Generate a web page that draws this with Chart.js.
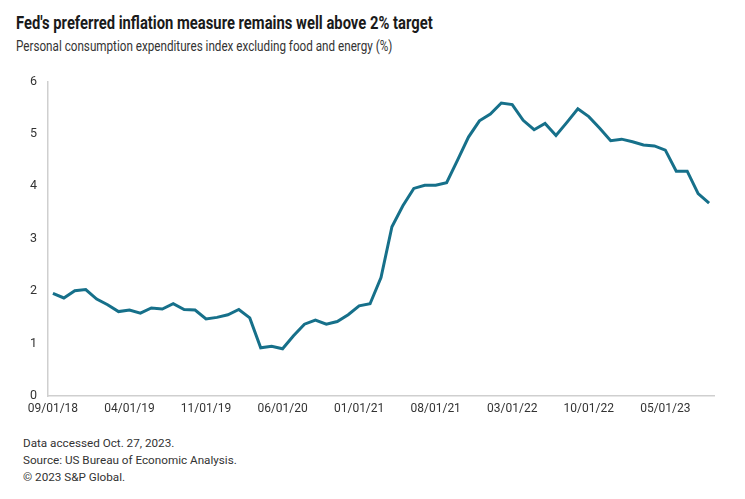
<!DOCTYPE html>
<html>
<head>
<meta charset="utf-8">
<script src="https://cdn.jsdelivr.net/npm/chart.js@4"></script>
<style>
  body { margin: 0; background: #fff; width: 745px; height: 499px; position: relative; overflow: hidden; }
  .title { position: absolute; left: 16px; top: 13px; font-family: "Roboto", sans-serif; font-weight: bold; font-size: 17.5px; color: #1a1a1a; white-space: nowrap; transform: scaleX(0.845); transform-origin: left top; }
  .subtitle { position: absolute; left: 16px; top: 38px; font-family: "Roboto", sans-serif; font-size: 14.5px; color: #333; white-space: nowrap; transform: scaleX(0.805); transform-origin: left top; }
  .foot { position: absolute; left: 23px; top: 435px; font-family: "Roboto", sans-serif; font-size: 11.7px; line-height: 17px; color: #333; }
  #wrap { position: absolute; left: 0; top: 63px; width: 745px; height: 369px; }
</style>
</head>
<body>
<div class="title">Fed's preferred inflation measure remains well above 2% target</div>
<div class="subtitle">Personal consumption expenditures index excluding food and energy (%)</div>
<div id="wrap"><canvas id="pceChart"></canvas></div>
<div class="foot">Data accessed Oct. 27, 2023.<br>Source: US Bureau of Economic Analysis.<br>© 2023 S&amp;P Global.</div>
<script>
// Monthly dates, 09/2018 .. 09/2023
const months = [
  '09/01/18', '10/01/18', '11/01/18', '12/01/18',
  '01/01/19', '02/01/19', '03/01/19', '04/01/19', '05/01/19', '06/01/19', '07/01/19', '08/01/19', '09/01/19', '10/01/19', '11/01/19', '12/01/19',
  '01/01/20', '02/01/20', '03/01/20', '04/01/20', '05/01/20', '06/01/20', '07/01/20', '08/01/20', '09/01/20', '10/01/20', '11/01/20', '12/01/20',
  '01/01/21', '02/01/21', '03/01/21', '04/01/21', '05/01/21', '06/01/21', '07/01/21', '08/01/21', '09/01/21', '10/01/21', '11/01/21', '12/01/21',
  '01/01/22', '02/01/22', '03/01/22', '04/01/22', '05/01/22', '06/01/22', '07/01/22', '08/01/22', '09/01/22', '10/01/22', '11/01/22', '12/01/22',
  '01/01/23', '02/01/23', '03/01/23', '04/01/23', '05/01/23', '06/01/23', '07/01/23', '08/01/23', '09/01/23'
];

// Core PCE, year-over-year %
const corePce = [
  1.96, 1.87, 2.01, 2.03,
  1.85, 1.74, 1.61, 1.64, 1.58, 1.68, 1.66, 1.76, 1.65, 1.64, 1.47, 1.50,
  1.55, 1.65, 1.49, 0.92, 0.95, 0.90, 1.15, 1.37, 1.45, 1.37, 1.42, 1.55,
  1.72, 1.76, 2.26, 3.23, 3.63, 3.96, 4.02, 4.02, 4.07, 4.50, 4.94, 5.25,
  5.38, 5.59, 5.56, 5.26, 5.08, 5.20, 4.97, 5.22, 5.48, 5.33, 5.11, 4.87,
  4.90, 4.85, 4.79, 4.77, 4.69, 4.29, 4.29, 3.86, 3.68
];

// x tick every 7 months
const tickIdx = [0, 7, 14, 21, 28, 35, 42, 49, 56];
const yTicks = [0, 1, 2, 3, 4, 5, 6];

const points = corePce.map((v, i) => ({ x: i, y: v }));

const ctx = document.getElementById('pceChart').getContext('2d');
new Chart(ctx, {
  type: 'line',
  data: {
    datasets: [{
      label: 'Core PCE',
      data: points,
      borderColor: '#16708a',
      borderWidth: 3,
      pointRadius: 0,
      tension: 0,
      fill: false
    }]
  },
  options: {
    responsive: true,
    maintainAspectRatio: false,
    animation: false,
    layout: { padding: { top: 6, right: 31, left: 0, bottom: 0 } },
    plugins: {
      legend: { display: false },
      tooltip: { enabled: false }
    },
    scales: {
      x: {
        type: 'linear',
        min: -0.45,
        max: 60.45,
        afterBuildTicks: (scale) => {
          scale.ticks = tickIdx.map(v => ({ value: v }));
        },
        afterFit: (scale) => { scale.height = 36; },
        ticks: {
          autoSkip: false,
          maxRotation: 0,
          padding: 6,
          color: '#333',
          font: { family: 'Roboto', size: 12 },
          callback: (v) => months[v]
        },
        grid: { display: false, drawTicks: false },
        border: { color: '#cfcfcf', width: 1.5 }
      },
      y: {
        min: 0,
        max: 6,
        afterBuildTicks: (scale) => {
          scale.ticks = yTicks.map(v => ({ value: v }));
        },
        afterFit: (scale) => { scale.width = 48; },
        ticks: {
          padding: 11,
          color: '#333',
          font: { family: 'Roboto', size: 12.5 }
        },
        grid: { display: false, drawTicks: false },
        border: { color: '#cfcfcf', width: 1.5 }
      }
    }
  }
});
</script>
</body>
</html>
